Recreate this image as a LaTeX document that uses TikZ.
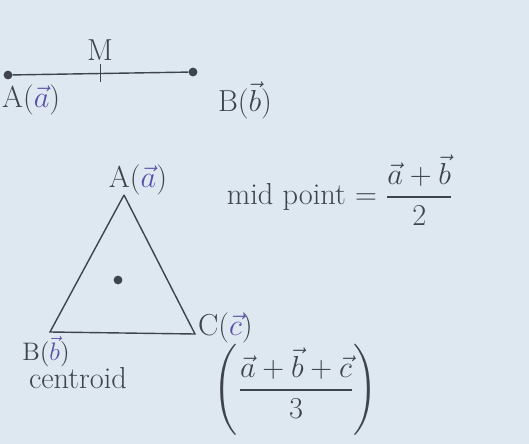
\documentclass[tikz,border=0pt]{standalone}
\usepackage{amsmath}
\definecolor{paper}{RGB}{222,232,240}
\definecolor{pencil}{RGB}{62,68,78}
\definecolor{ink}{RGB}{88,80,170}
\tikzset{
  pt/.style={circle,fill=pencil,inner sep=0pt,minimum size=5pt},
  lbl/.style={text=pencil,font=\LARGE,inner sep=1pt},
}
\begin{document}
\begin{tikzpicture}[x=0.02cm,y=-0.02cm]
		\fill[paper] (0,0) rectangle (529,444);
		\useasboundingbox (0,0) rectangle (529,444);
		\node[pt] (pA) at (8,75) {};
		\node[pt] (pB) at (193,72) {};
		\coordinate (pM) at (100,73);
		\draw[pencil,thick] (pA) to (pB);
		\draw[pencil] (pM) ++(0,-9) to ++(0,18);
		\node[lbl] (Mlbl) at (100,50) {M};
		\node[lbl,anchor=west] (Albl) at (0,100) {A($\textcolor{ink}{\vec a}$)};
		\node[lbl] (Blbl) at (245,100) {B($\vec b$)};
		\node[lbl] (midpt) at (340,190) {mid point $=\dfrac{\vec a+\vec b}{2}$};
		\coordinate (tA) at (124,195);
		\coordinate (tB) at (50,332);
		\coordinate (tC) at (195,334);
		\draw[pencil,thick] (tA) to (tB) to (tC) to (tA);
		\node[pt] (G) at (118,280) {};
		\node[lbl] (tAlbl) at (138,180) {A($\textcolor{ink}{\vec a}$)};
		\node[lbl,font=\Large,anchor=north] (tBlbl) at (46,334) {B($\textcolor{ink}{\vec b}$)};
		\node[lbl,anchor=west] (tClbl) at (196,328) {C($\textcolor{ink}{\vec c}$)};
		\node[lbl] (cent) at (78,378) {centroid};
		\node[lbl] (Gfrac) at (296,390) {$\left(\dfrac{\vec a+\vec b+\vec c}{3}\right)$};
		\end{tikzpicture}
\end{document}
